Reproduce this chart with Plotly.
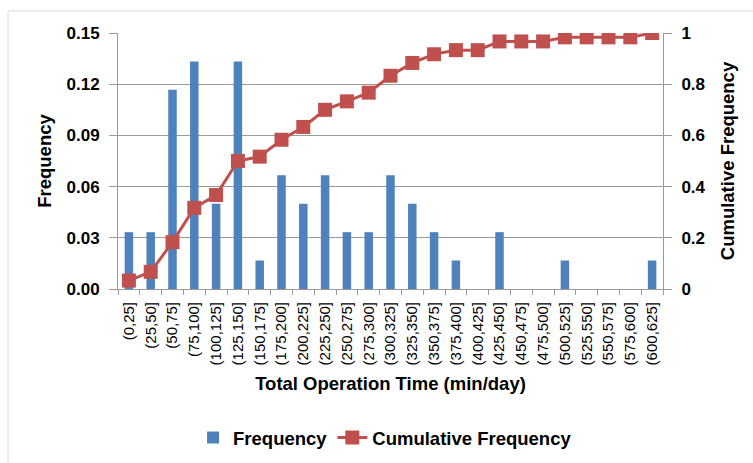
import plotly.graph_objects as go

categories = ["(0,25]", "(25,50]", "(50,75]", "(75,100]", "(100,125]", "(125,150]",
              "(150,175]", "(175,200]", "(200,225]", "(225,250]", "(250,275]", "(275,300]",
              "(300,325]", "(325,350]", "(350,375]", "(375,400]", "(400,425]", "(425,450]",
              "(450,475]", "(475,500]", "(500,525]", "(525,550]", "(550,575]", "(575,600]",
              "(600,625]"]
frequency = [0.0333, 0.0333, 0.1167, 0.1333, 0.05, 0.1333, 0.0167, 0.0667, 0.05, 0.0667,
             0.0333, 0.0333, 0.0667, 0.05, 0.0333, 0.0167, 0.0, 0.0333, 0.0, 0.0,
             0.0167, 0.0, 0.0, 0.0, 0.0167]
cumulative = [0.033, 0.067, 0.183, 0.317, 0.367, 0.5, 0.517, 0.583, 0.633, 0.70,
              0.733, 0.767, 0.833, 0.883, 0.917, 0.933, 0.933, 0.967, 0.967, 0.967,
              0.983, 0.983, 0.983, 0.983, 1.0]
left_ticks = [0, 0.03, 0.06, 0.09, 0.12, 0.15]
left_labels = ["0.00", "0.03", "0.06", "0.09", "0.12", "0.15"]
right_ticks = [0, 0.2, 0.4, 0.6, 0.8, 1.0]
right_labels = ["0", "0.2", "0.4", "0.6", "0.8", "1"]

FONT = "Liberation Sans"
AXC = "#9A9A9A"
fig = go.Figure()
fig.add_trace(go.Bar(x=categories, y=frequency, name="<b>Frequency</b>",
                     marker=dict(color="#4F81BD", line=dict(width=0)), yaxis="y"))
fig.add_trace(go.Scatter(x=categories, y=cumulative, name="<b>Cumulative Frequency</b>",
                         mode="lines+markers", yaxis="y2",
                         line=dict(color="#C0504D", width=3),
                         marker=dict(symbol="square", size=14, color="#C0504D")))

# faint chart-frame border (top and left edges)
frame = dict(type="line", xref="paper", yref="paper", line=dict(color="#D9D9D9", width=1), layer="below")
fig.add_shape(x0=-0.2018, x1=1.2, y0=1.0859, y1=1.0859, **frame)
fig.add_shape(x0=-0.2018, x1=-0.2018, y0=1.0859, y1=-0.75, **frame)

fig.update_layout(
    width=753, height=463,
    margin=dict(l=118, r=90, t=33, b=174, autoexpand=False),
    paper_bgcolor="white", plot_bgcolor="white",
    font=dict(family=FONT, color="black"),
    bargap=0.61,
    showlegend=True,
    legend=dict(orientation="h", x=0.49, xanchor="center", y=-0.582, yanchor="middle",
                font=dict(size=18.5, family=FONT), traceorder="normal"),
    xaxis=dict(type="category", range=[-0.5, 24.5], tickangle=-90, automargin=False,
               tickfont=dict(size=15, family=FONT), ticklabelstandoff=6,
               ticks="outside", tickson="boundaries", ticklen=5, tickcolor=AXC,
               showline=True, linecolor=AXC, linewidth=1, showgrid=False,
               title=dict(text="<b>Total Operation Time (min/day)</b>",
                          font=dict(size=18.5, family=FONT), standoff=12)),
    yaxis=dict(range=[0, 0.15], tickvals=left_ticks, automargin=False,
               ticktext=["<b>%s</b>" % t for t in left_labels],
               tickfont=dict(size=17, family=FONT), showline=True, linecolor=AXC,
               ticks="outside", ticklen=8, tickcolor=AXC, ticklabelstandoff=6,
               showgrid=True, gridcolor=AXC, gridwidth=1, zeroline=False,
               title=dict(text="<b>Frequency</b>", font=dict(size=18.5, family=FONT), standoff=10)),
    yaxis2=dict(range=[0, 1.0], tickvals=right_ticks, automargin=False,
                ticktext=["<b>%s</b>" % t for t in right_labels],
                overlaying="y", side="right", tickfont=dict(size=17, family=FONT),
                showline=True, linecolor=AXC, ticks="outside", ticklen=8, tickcolor=AXC,
                ticklabelstandoff=6, showgrid=False, zeroline=False,
                title=dict(text="<b>Cumulative Frequency</b>", font=dict(size=18.5, family=FONT), standoff=16)),
)
fig.write_html("out.html", config={"displayModeBar": False},
               post_script="document.body.style.margin='0';")
